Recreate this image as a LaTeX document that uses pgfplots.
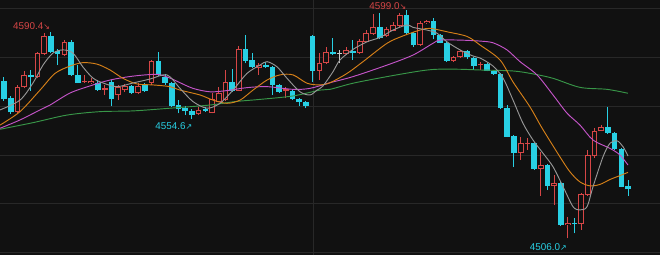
\documentclass[border=0pt]{standalone}
\usepackage{pgfplots}
\pgfplotsset{compat=1.18}
\usepackage{pgfplotstable}
\usepackage{fontspec}
\setmainfont{Liberation Sans}
\newfontfamily\symf{DejaVu Sans}
\definecolor{bgc}{RGB}{17,17,17}
\definecolor{gridc}{RGB}{40,40,40}
\definecolor{upc}{RGB}{214,70,70}
\definecolor{dnc}{RGB}{40,208,228}
\definecolor{flc}{RGB}{205,205,205}
\definecolor{ma5}{RGB}{150,150,150}
\definecolor{ma10}{RGB}{214,128,24}
\definecolor{ma20}{RGB}{196,84,200}
\definecolor{ma60}{RGB}{56,150,72}
\pgfplotsset{
  bar/.style 2 args={draw=none, fill=none, mark=none, mark size=0pt,
    mark options={draw=none, fill=none}, forget plot,
    error bars/.cd, y dir=plus, y explicit, error mark=none,
    error bar style={line width=#2, draw=#1, solid}},
}
\pgfplotstableread{
n o h l c
2 4557.7 4568.6 4557.0 4567.9
3 4567.6 4574.4 4567.2 4572.7
5 4572.0 4582.2 4571.3 4581.5
6 4581.2 4589.8 4580.8 4588.6
9 4580.8 4586.9 4580.4 4586.2
12 4569.7 4572.7 4569.3 4570.2
13 4569.3 4571.3 4569.0 4570.2
15 4566.5 4568.6 4564.5 4567.2
17 4564.5 4568.6 4562.4 4567.6
18 4566.5 4569.0 4565.7 4568.2
20 4565.4 4569.3 4564.9 4568.2
22 4569.3 4578.8 4568.6 4578.5
29 4556.7 4559.7 4556.3 4558.4
31 4557.3 4565.2 4557.0 4562.7
32 4561.8 4567.6 4561.6 4565.2
33 4562.4 4574.7 4562.0 4569.9
35 4566.3 4584.5 4566.1 4583.1
38 4575.6 4577.4 4572.7 4576.7
42 4566.3 4567.6 4563.1 4566.8
47 4574.4 4581.5 4570.6 4577.7
48 4577.7 4584.2 4577.1 4582.2
51 4581.1 4584.2 4580.8 4582.9
53 4581.8 4587.2 4581.4 4586.7
54 4586.2 4591.0 4586.1 4589.7
55 4589.3 4597.6 4589.0 4592.1
57 4588.6 4592.2 4588.2 4591.3
58 4590.7 4594.3 4590.6 4593.1
59 4592.7 4597.8 4592.2 4597.1
62 4584.9 4594.7 4584.5 4594.0
63 4593.8 4595.1 4593.5 4594.8
67 4578.4 4580.4 4578.0 4579.9
68 4579.9 4582.9 4579.6 4582.6
71 4576.6 4578.1 4574.7 4577.0
77 4540.7 4547.5 4538.0 4544.8
78 4544.5 4546.8 4542.0 4544.9
80 4534.2 4541.3 4523.3 4535.9
82 4527.3 4531.8 4519.6 4528.7
84 4511.4 4514.8 4506.0 4512.4
86 4511.8 4524.5 4509.4 4524.1
87 4523.7 4542.0 4523.3 4540.0
88 4539.6 4551.0 4538.7 4549.9
89 4549.9 4552.2 4549.8 4551.6
}\up
\pgfplotstableread{
n o h l c
0 4570.2 4571.8 4562.0 4562.7
1 4563.1 4564.1 4556.7 4557.4
4 4572.7 4574.7 4566.3 4571.7
7 4588.6 4590.4 4581.6 4582.2
8 4582.6 4583.3 4576.7 4581.1
10 4586.2 4586.9 4572.2 4572.7
11 4572.7 4576.7 4569.3 4569.5
14 4569.5 4570.6 4566.3 4566.5
16 4569.9 4570.6 4560.0 4562.7
19 4568.2 4568.6 4564.9 4565.4
21 4568.6 4569.5 4565.8 4566.3
23 4578.5 4582.2 4572.2 4572.7
24 4572.0 4573.1 4568.6 4569.5
25 4569.3 4569.9 4559.5 4560.0
26 4560.4 4562.4 4557.0 4558.7
27 4559.1 4560.0 4556.3 4558.0
28 4558.0 4558.8 4554.6 4556.3
30 4558.7 4559.6 4557.6 4558.0
34 4569.9 4575.0 4565.7 4566.3
36 4583.1 4589.0 4577.4 4578.5
37 4578.8 4581.5 4575.5 4575.8
39 4576.7 4578.1 4575.5 4575.8
40 4575.8 4576.3 4564.5 4568.6
41 4568.6 4569.0 4565.3 4565.8
43 4566.3 4566.8 4562.4 4562.9
44 4563.0 4563.3 4560.0 4561.6
45 4561.8 4562.0 4559.1 4560.1
46 4588.7 4589.0 4569.9 4574.3
49 4582.2 4587.6 4580.8 4581.1
52 4582.6 4586.9 4578.8 4581.8
56 4592.1 4598.1 4587.3 4587.6
60 4597.1 4599.0 4589.4 4589.7
61 4589.7 4590.2 4584.2 4584.9
64 4594.8 4595.8 4587.2 4589.0
65 4589.0 4589.4 4585.6 4585.8
66 4585.8 4586.1 4578.0 4578.4
69 4582.6 4582.9 4579.2 4579.9
70 4579.5 4580.0 4574.7 4576.3
72 4577.0 4577.6 4574.1 4574.4
73 4574.4 4574.7 4572.7 4573.1
74 4573.1 4573.5 4558.8 4559.1
75 4559.1 4560.4 4547.3 4547.5
76 4547.8 4548.2 4535.0 4540.7
79 4544.8 4545.3 4533.9 4534.2
81 4535.9 4536.3 4525.7 4527.3
83 4528.5 4529.0 4511.0 4511.4
85 4512.4 4514.4 4508.0 4511.8
90 4551.6 4559.7 4548.6 4548.9
91 4548.9 4549.4 4542.0 4542.3
92 4542.3 4542.9 4526.9 4527.1
93 4527.3 4529.8 4523.3 4526.0
}\down
\pgfplotstableread{
n o h l c
50 4581.5 4582.9 4577.4 4581.5
}\flat
\begin{document}
\begin{tikzpicture}
\begin{axis}[
  scale only axis, width=495pt, height=191.25pt,
  xmin=-0.596, xmax=97.76, ymin=4499.18, ymax=4603.27,
  axis background/.style={fill=bgc},
  axis line style={draw=none}, tick style={draw=none},
  xtick={46.1}, ytick={4500,4520,4540,4560,4580,4600},
  xticklabels={}, yticklabels={},
  xmajorgrids, ymajorgrids,
  major grid style={draw=gridc, line width=0.75pt},
]
% wicks
\addplot[bar={dnc}{0.75pt}] table[x=n, y=l, y error plus expr=\thisrow{h}-\thisrow{l}] {\down};
\addplot[bar={upc}{0.75pt}] table[x=n, y=l, y error plus expr=\thisrow{h}-\thisrow{l}] {\up};
\addplot[bar={flc}{0.75pt}] table[x=n, y=l, y error plus expr=\thisrow{h}-\thisrow{l}] {\flat};
% bodies
\addplot[bar={dnc}{4.2pt}] table[x=n, y=c, y error plus expr=\thisrow{o}-\thisrow{c}] {\down};
\addplot[bar={upc}{4.3pt}] table[x=n, y=o, y error plus expr=\thisrow{c}-\thisrow{o}] {\up};
\addplot[bar={bgc}{2.8pt}] table[x=n, y expr=\thisrow{o}+0.4, y error plus expr={max(\thisrow{c}-\thisrow{o}-0.8,0)}] {\up};
\addplot[bar={flc}{4.2pt}] table[x=n, y expr=\thisrow{o}-0.2, y error plus expr=0.4] {\flat};
% moving averages
\addplot[ma60, line width=0.7pt, smooth, tension=0.5] coordinates {
(-0.6,4550.5) (4.32,4553.2) (9.39,4556.3) (14.31,4557.7) (19.23,4558.0)
(24.74,4559.1) (30.70,4560.4) (34.43,4561.8) (38.15,4562.7) (43.07,4564.1) (47.09,4566.5)
(48.58,4566.8) (52.01,4569.3) (57.08,4572.0) (62.00,4574.3) (64.53,4575.0) (67.96,4575.0)
(70.94,4574.7) (75.86,4574.3) (78.84,4573.1) (81.82,4571.3) (85.84,4567.6) (89.87,4566.8)
(92.99,4565.2)};
\addplot[ma20, line width=0.7pt, smooth, tension=0.5] coordinates {
(-0.6,4550.9) (2.38,4554.3) (5.37,4558.4) (6.86,4560.4) (9.84,4565.3) (12.82,4568.2)
(15.80,4570.6) (19.23,4572.2) (22.80,4572.9) (24.74,4571.4) (25.93,4569.9) (28.17,4567.2)
(30.70,4565.8) (33.23,4566.3) (36.21,4567.5) (39.20,4567.9) (43.07,4566.8) (45.60,4567.2)
(48.58,4569.5) (52.01,4572.0) (57.08,4576.7) (60.95,4580.8) (63.93,4585.6) (64.98,4586.9)
(67.96,4586.9) (70.94,4586.5) (72.88,4585.8) (74.96,4582.9) (76.90,4578.1) (79.43,4572.7)
(81.82,4564.5) (83.90,4557.1) (85.84,4552.2) (87.78,4546.1) (90.31,4542.7) (91.80,4540.0)
(92.99,4535.9)};
\addplot[ma10, line width=0.7pt, smooth, tension=0.5] coordinates {
(-0.6,4552.2) (2.38,4557.7) (5.37,4566.5) (7.60,4573.3) (9.84,4576.3) (11.77,4577.7)
(13.86,4577.1) (15.80,4574.7) (17.73,4571.3) (19.82,4569.0) (22.21,4568.6) (24.74,4567.9)
(26.23,4566.5) (29.21,4564.5) (31.15,4562.4) (33.23,4561.1) (35.17,4562.4) (37.11,4566.5)
(39.20,4570.6) (41.13,4572.7) (43.07,4572.7) (45.16,4569.3) (47.09,4568.6) (48.58,4569.5)
(51.12,4573.3) (53.50,4578.1) (57.08,4585.6) (59.46,4588.6) (62.00,4591.0) (63.49,4591.7)
(66.02,4590.3) (69.00,4588.4) (70.94,4584.9) (73.92,4578.8) (75.86,4569.8) (78.39,4559.6)
(80.18,4551.0) (82.86,4539.2) (84.35,4533.1) (85.84,4529.0) (87.33,4527.4) (88.82,4528.0)
(90.31,4530.0) (91.80,4531.6) (92.99,4532.9)};
\addplot[ma5, line width=0.7pt, smooth, tension=0.5] coordinates {
(-0.6,4558.4) (2.38,4562.4) (4.32,4569.4) (5.81,4576.7) (7.30,4581.6) (8.79,4582.9)
(10.28,4581.6) (11.77,4575.9) (13.26,4571.4) (14.75,4569.4) (16.84,4567.9)
(19.23,4569.4) (21.76,4571.0) (24.29,4572.7) (26.23,4567.2) (28.17,4561.8)
(30.25,4559.1) (32.19,4561.1) (34.13,4566.5) (36.21,4573.3) (38.15,4576.7) (39.20,4578.1)
(40.69,4576.0) (42.18,4571.3) (44.11,4565.8) (45.60,4564.5) (46.65,4566.5) (47.54,4568.2)
(49.03,4574.0) (50.07,4578.8) (52.01,4583.1) (54.10,4586.2) (56.04,4588.0) (57.97,4591.0)
(60.06,4593.1) (60.95,4592.1) (63.04,4591.0) (64.53,4589.7) (66.02,4586.2) (67.96,4582.9)
(69.90,4580.4) (70.94,4579.6) (72.88,4576.3) (74.37,4571.4) (75.86,4562.4) (77.35,4552.9)
(78.84,4546.1) (80.33,4540.7) (81.82,4535.2) (83.31,4527.1) (84.80,4518.9) (85.84,4517.6)
(86.89,4518.9) (87.78,4527.1) (89.27,4539.3) (90.31,4544.8) (91.36,4545.8) (92.25,4543.4)
(92.99,4539.6)};
\node[anchor=east, text=upc, inner sep=0pt, font=\fontsize{7.4}{8}\selectfont] at (axis cs:6.9,4592.6) {4590.4{\symf\fontsize{6}{7}\selectfont ↘}};
\node[anchor=east, text=upc, inner sep=0pt, font=\fontsize{7.4}{8}\selectfont] at (axis cs:60.0,4600.8) {4599.0{\symf\fontsize{6}{7}\selectfont ↘}};
\node[anchor=east, text=dnc, inner sep=0pt, font=\fontsize{7.4}{8}\selectfont] at (axis cs:28.1,4551.8) {4554.6{\symf\fontsize{6}{7}\selectfont ↗}};
\node[anchor=east, text=dnc, inner sep=0pt, font=\fontsize{7.4}{8}\selectfont] at (axis cs:83.9,4502.6) {4506.0{\symf\fontsize{6}{7}\selectfont ↗}};
\end{axis}
\pgfresetboundingbox
\path[use as bounding box] (current axis.south west) rectangle (current axis.north east);
\end{tikzpicture}
\end{document}
